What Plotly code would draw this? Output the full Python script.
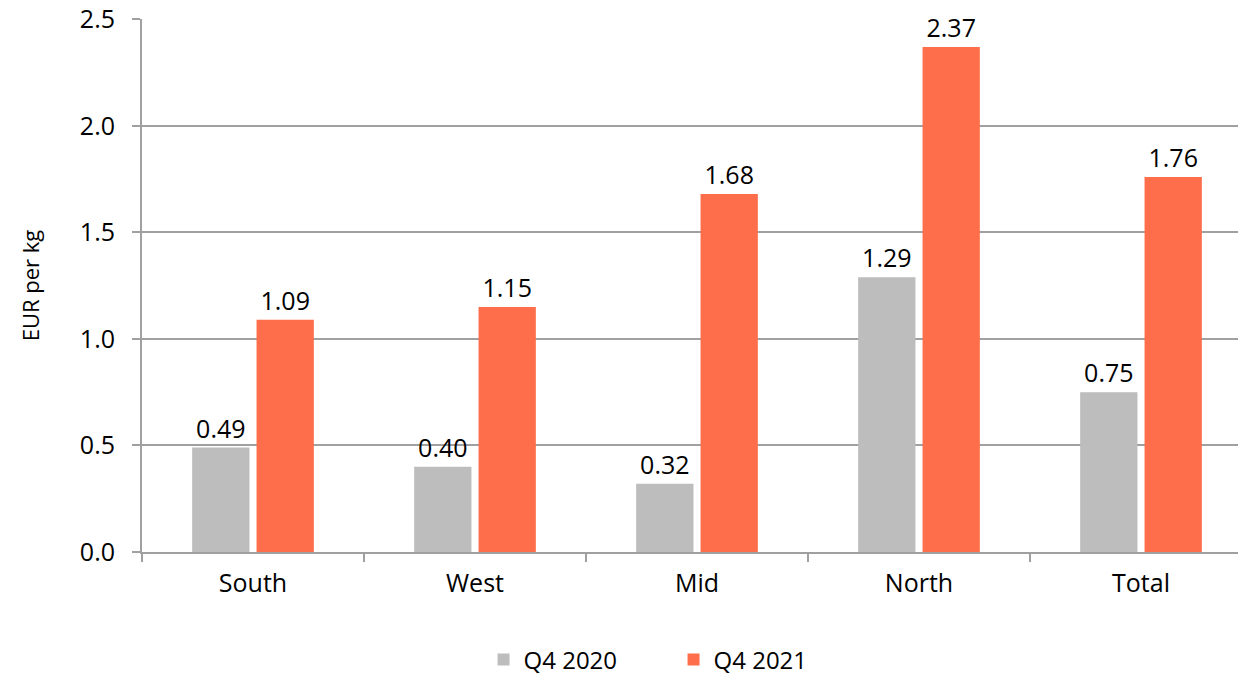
import plotly.graph_objects as go

categories = ["South", "West", "Mid", "North", "Total"]
q4_2020 = [0.49, 0.40, 0.32, 1.29, 0.75]
q4_2021 = [1.09, 1.15, 1.68, 2.37, 1.76]
series_names = ["Q4 2020", "Q4 2021"]
y_ticks = [0.0, 0.5, 1.0, 1.5, 2.0, 2.5]

FONT = "Open Sans"
fig = go.Figure()
for vals, name, color in [(q4_2020, series_names[0], "#BCBDBC"),
                          (q4_2021, series_names[1], "#FF6E4A")]:
    fig.add_trace(go.Bar(
        x=categories, y=vals, name=name,
        marker=dict(color=color, line=dict(width=0)),
        text=[f"{v:.2f}" for v in vals], textposition="outside",
        constraintext="none",
        textfont=dict(size=25, color="#000000", family=FONT), cliponaxis=False,
    ))

fig.update_layout(
    width=1260, height=678,
    margin=dict(l=142, r=8, t=19, b=126, autoexpand=False),
    paper_bgcolor="white", plot_bgcolor="white",
    font=dict(family=FONT, size=25, color="#000000"),
    barmode="group", bargap=0.42, bargroupgap=0.11,
    showlegend=True,
    legend=dict(orientation="h", x=0.3077, xanchor="left", y=-0.2026, yanchor="middle",
                font=dict(size=24), traceorder="normal",
                entrywidth=145, entrywidthmode="pixels"),
    xaxis=dict(
        showline=True, linecolor="#A0A0A0", linewidth=2,
        ticks="outside", tickson="boundaries", ticklen=8, tickcolor="#A0A0A0", tickwidth=2,
        showgrid=False, tickfont=dict(size=25), ticklabelstandoff=8,
    ),
    yaxis=dict(
        range=[0, 2.502], tickvals=y_ticks, tickformat=".1f",
        showline=True, linecolor="#A0A0A0", linewidth=2,
        ticks="outside", ticklen=8, tickcolor="#A0A0A0", tickwidth=2,
        showgrid=True, gridcolor="#A0A0A0", gridwidth=2,
        zeroline=False, tickfont=dict(size=25), ticklabelstandoff=12,
        title=dict(text="EUR per kg", font=dict(size=22), standoff=34),
    ),
)
fig.write_html(
    "out.html",
    config={"displayModeBar": False},
    post_script="document.body.style.margin='0';document.body.style.overflow='hidden';",
)
